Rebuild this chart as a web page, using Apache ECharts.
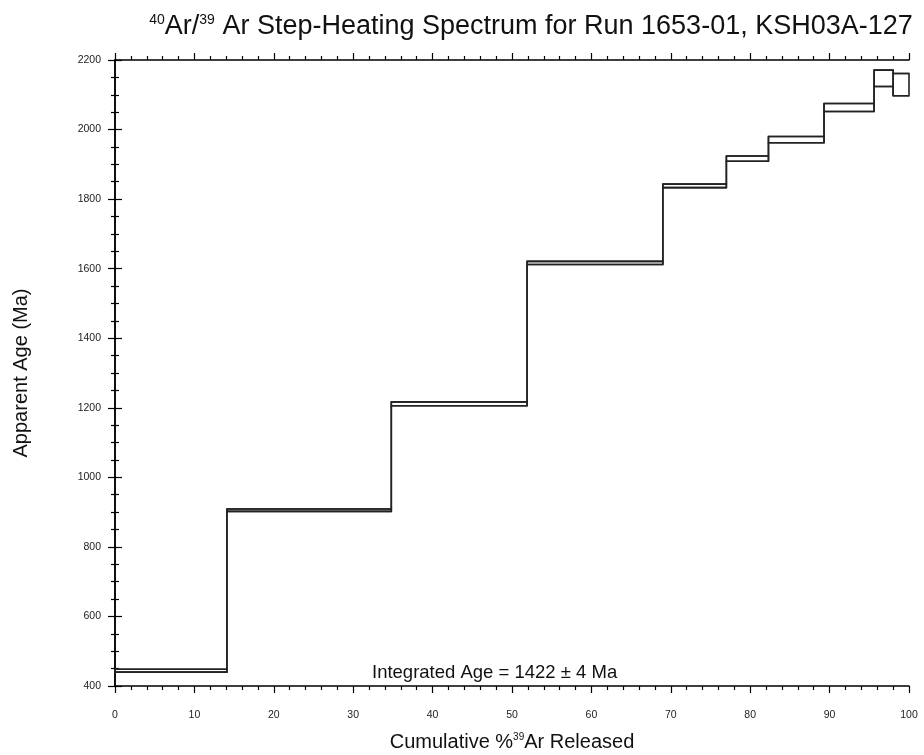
<!DOCTYPE html>
<html>
<head>
<meta charset="utf-8">
<script src="https://cdn.jsdelivr.net/npm/echarts@6/dist/echarts.min.js"></script>
<style>html,body{margin:0;padding:0;background:#fff}#chart{width:924px;height:755px}</style>
</head>
<body>
<div id="chart"></div>
<script>
// Cumulative %39Ar boundaries of each heating step
const stepEdges = [0, 14.1, 34.8, 51.9, 69.0, 77.0, 82.3, 89.3, 95.6, 98.0, 100];
// Lower and upper apparent-age bounds (Ma) of each step
const ageLow  = [440, 902, 1206, 1612, 1833, 1909, 1962, 2052, 2124, 2097];
const ageHigh = [448, 909, 1217, 1621, 1843, 1924, 1980, 2075, 2171, 2161];
const xTicks = [0, 10, 20, 30, 40, 50, 60, 70, 80, 90, 100];
const yTicks = [400, 600, 800, 1000, 1200, 1400, 1600, 1800, 2000, 2200];
const integratedAgeText = 'Integrated Age = 1422 ± 4 Ma';

const boxes = ageLow.map((lo, i) => [stepEdges[i], stepEdges[i + 1], lo, ageHigh[i]]);
function stepLine(vals) {
  const pts = [];
  vals.forEach((v, i) => { pts.push([stepEdges[i], v]); pts.push([stepEdges[i + 1], v]); });
  return pts;
}

const FONT = '"Liberation Sans", Arial, sans-serif';
const chart = echarts.init(document.getElementById('chart'));

const axisLine = { show: true, lineStyle: { color: '#000', width: 1.5 } };
function xAxisDef(pos, labels) {
  return {
    type: 'value', position: pos, min: xTicks[0], max: xTicks[xTicks.length - 1], interval: 10,
    axisLine: axisLine,
    axisTick: { show: true, inside: false, length: 7, lineStyle: { color: '#000', width: 1.2 } },
    minorTick: { show: true, splitNumber: 5, length: 4, lineStyle: { color: '#000', width: 1.2 } },
    splitLine: { show: false },
    axisLabel: { show: labels, margin: 24, fontFamily: FONT, fontSize: 10.5, color: '#222',
      formatter: v => String(v) },
    name: labels ? 'Cumulative %{s|39}Ar Released' : '',
    nameLocation: 'middle', nameGap: 46,
    nameTextStyle: { fontFamily: FONT, fontSize: 20, color: '#111',
      rich: { s: { fontSize: 10, verticalAlign: 'top', padding: [0, 0, 9, 0], fontFamily: FONT, color: '#111' } } }
  };
}
function yAxisDef(pos, labels) {
  return {
    type: 'value', position: pos, min: yTicks[0], max: yTicks[yTicks.length - 1], interval: 200,
    axisLine: axisLine,
    axisTick: { show: true, inside: false, length: 7, lineStyle: { color: '#000', width: 1.2 } },
    minorTick: { show: true, splitNumber: 4, length: 4, lineStyle: { color: '#000', width: 1.2 } },
    splitLine: { show: false },
    axisLabel: { show: labels, margin: 14, fontFamily: FONT, fontSize: 10.5, color: '#222',
      formatter: v => String(v) },
    name: labels ? 'Apparent Age (Ma)' : '',
    nameLocation: 'middle', nameGap: 84, nameRotate: 90,
    nameTextStyle: { fontFamily: FONT, fontSize: 20, color: '#111' }
  };
}

const lineStyle = { color: '#222', width: 1.6 };
chart.setOption({
  animation: false,
  backgroundColor: '#fff',
  title: {
    text: '{s|40}Ar/{s|39} Ar Step-Heating Spectrum for Run 1653-01, KSH03A-127',
    left: 526, top: 8, textAlign: 'center',
    textStyle: { fontFamily: FONT, fontSize: 27, fontWeight: 'normal', color: '#111',
      rich: { s: { fontSize: 14, verticalAlign: 'top', padding: [0, 0, 12, 0], fontFamily: FONT, color: '#111' } } }
  },
  grid: { left: 115, right: 15, top: 60, bottom: 69, containLabel: false, outerBoundsMode: 'none' },
  xAxis: [xAxisDef('bottom', true), xAxisDef('top', false)],
  yAxis: [yAxisDef('left', true), yAxisDef('right', false)],
  graphic: [{
    type: 'text', left: 372, top: 663,
    style: { text: integratedAgeText, fontFamily: FONT, fontSize: 18.5, fill: '#111' }
  }],
  series: [{
    type: 'custom',
    xAxisIndex: 0, yAxisIndex: 0,
    data: boxes,
    renderItem: function (params, api) {
      const p0 = api.coord([api.value(0), api.value(3)]);
      const p1 = api.coord([api.value(1), api.value(2)]);
      return {
        type: 'rect',
        shape: { x: p0[0], y: p0[1], width: p1[0] - p0[0], height: p1[1] - p0[1] },
        style: { fill: 'none', stroke: '#222', lineWidth: 1.6 }
      };
    }
  }, {
    type: 'line', data: stepLine(ageHigh), showSymbol: false, symbol: 'none',
    lineStyle: lineStyle
  }, {
    type: 'line', data: stepLine(ageLow), showSymbol: false, symbol: 'none',
    lineStyle: lineStyle
  }]
});
</script>
</body>
</html>
